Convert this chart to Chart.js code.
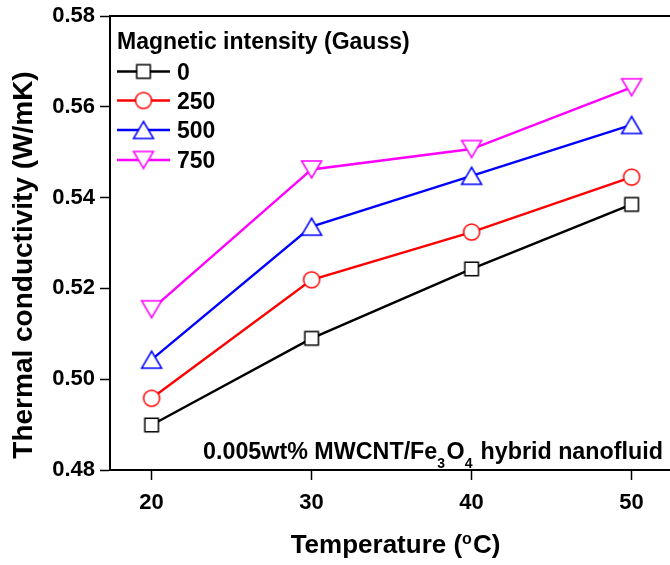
<!DOCTYPE html>
<html>
<head>
<meta charset="utf-8">
<script src="https://cdn.jsdelivr.net/npm/chart.js@4/dist/chart.umd.min.js"></script>
<style>
html,body{margin:0;padding:0;background:#fff;}
canvas{display:block;}
</style>
</head>
<body>
<canvas id="c" width="670" height="565"></canvas>
<script>
// ---- data ----
const temps = [20, 30, 40, 50];
const k0   = [0.4899, 0.5090, 0.5243, 0.5385];
const k250 = [0.4958, 0.5219, 0.5324, 0.5445];
const k500 = [0.5043, 0.5336, 0.5448, 0.5560];
const k750 = [0.5154, 0.5462, 0.5507, 0.5643];
const seriesNames = ['0', '250', '500', '750'];
const xTicks = [20, 30, 40, 50];
const yTicks = [0.48, 0.50, 0.52, 0.54, 0.56, 0.58];
const legendTitle = 'Magnetic intensity (Gauss)';
const xTitle = ['Temperature (', 'o', 'C)'];
const yTitle = 'Thermal conductivity (W/mK)';
const noteParts = ['0.005wt% MWCNT/Fe', '3', 'O', '4', ' hybrid nanofluid'];

const FONT = '"Liberation Sans", Arial, sans-serif';
const colors = ['#000000', '#ff0000', '#0000ff', '#ff00ff'];

// ---- marker images ----
function mk(w, h, draw) {
  const c = document.createElement('canvas');
  c.width = w; c.height = h;
  const g = c.getContext('2d');
  g.lineWidth = 1.5;
  g.fillStyle = '#fff';
  draw(g);
  return c;
}
const mSquare = mk(18, 18, g => { g.strokeStyle = colors[0]; g.beginPath(); g.rect(2.25, 2.25, 13.5, 13.5); g.fill(); g.stroke(); });
const mCircle = mk(20, 20, g => { g.strokeStyle = colors[1]; g.beginPath(); g.arc(10, 10, 8, 0, Math.PI * 2); g.fill(); g.stroke(); });
const mUp = mk(24, 21, g => { g.strokeStyle = colors[2]; g.beginPath(); g.moveTo(12, 2); g.lineTo(22, 19); g.lineTo(2, 19); g.closePath(); g.fill(); g.stroke(); });
const mDown = mk(24, 21, g => { g.strokeStyle = colors[3]; g.beginPath(); g.moveTo(2, 2); g.lineTo(22, 2); g.lineTo(12, 19); g.closePath(); g.fill(); g.stroke(); });
const markers = [mSquare, mCircle, mUp, mDown];

const allSeries = [k0, k250, k500, k750];
const datasets = allSeries.map((vals, i) => ({
  label: seriesNames[i],
  data: temps.map((t, j) => ({ x: t, y: vals[j] })),
  borderColor: colors[i],
  borderWidth: 2.4,
  pointStyle: markers[i],
  pointRadius: 10,
  pointHoverRadius: 10,
  tension: 0,
  clip: false
}));

const decor = {
  id: 'decor',
  afterDraw(chart) {
    const ctx = chart.ctx;
    const a = chart.chartArea;
    ctx.save();
    // top frame
    ctx.strokeStyle = '#000';
    ctx.lineWidth = 2;
    ctx.beginPath();
    ctx.moveTo(a.left - 1, a.top);
    ctx.lineTo(a.right + 2, a.top);
    ctx.stroke();

    ctx.fillStyle = '#000';
    // legend
    ctx.font = 'bold 23px ' + FONT;
    ctx.textAlign = 'left';
    ctx.textBaseline = 'alphabetic';
    ctx.fillText(legendTitle, 117, 48.5);
    const rows = [71.5, 100.5, 130, 160];
    rows.forEach((ry, i) => {
      ctx.strokeStyle = colors[i];
      ctx.lineWidth = 2.4;
      ctx.beginPath();
      ctx.moveTo(117, ry);
      ctx.lineTo(170, ry);
      ctx.stroke();
      const m = markers[i];
      ctx.drawImage(m, 143.5 - m.width / 2, ry - m.height / 2);
      ctx.fillStyle = '#000';
      ctx.fillText(seriesNames[i], 177, ry + 8);
    });

    // annotation
    let x = 203;
    const base = 458.5;
    noteParts.forEach((p, i) => {
      const sub = (i === 1 || i === 3);
      ctx.font = 'bold ' + (sub ? 14 : 23.3) + 'px ' + FONT;
      ctx.fillText(p, x, sub ? base + 9.5 : base);
      x += ctx.measureText(p).width + (sub ? 1.5 : 0);
    });

    // x title
    ctx.font = 'bold 26px ' + FONT;
    const w0 = ctx.measureText(xTitle[0]).width;
    const w2 = ctx.measureText(xTitle[2]).width;
    ctx.font = 'bold 16px ' + FONT;
    const w1 = ctx.measureText(xTitle[1]).width + 1;
    let tx = 395.5 - (w0 + w1 + w2) / 2;
    const tb = 553;
    ctx.font = 'bold 26px ' + FONT;
    ctx.fillText(xTitle[0], tx, tb);
    tx += w0;
    ctx.font = 'bold 16px ' + FONT;
    ctx.fillText(xTitle[1], tx, tb - 9);
    tx += w1;
    ctx.font = 'bold 26px ' + FONT;
    ctx.fillText(xTitle[2], tx, tb);

    // y title
    ctx.translate(32, 265);
    ctx.rotate(-Math.PI / 2);
    ctx.font = 'bold 28px ' + FONT;
    ctx.textAlign = 'center';
    ctx.fillText(yTitle, 0, 0);
    ctx.restore();
  }
};

new Chart(document.getElementById('c'), {
  type: 'line',
  data: { datasets },
  options: {
    responsive: false,
    animation: false,
    devicePixelRatio: 1,
    layout: { autoPadding: false, padding: { top: 16, left: 0, right: 0, bottom: 0 } },
    plugins: { legend: { display: false }, tooltip: { enabled: false } },
    scales: {
      x: {
        type: 'linear',
        min: 17.4,
        max: 52.4,
        afterFit(s) { s.height = 95; s.paddingLeft = 0; s.paddingRight = 0; },
        afterBuildTicks(s) { s.ticks = xTicks.map(v => ({ value: v })); },
        grid: { drawOnChartArea: false, drawTicks: true, tickLength: 10, color: '#000', tickWidth: 1.5 },
        border: { display: true, color: '#000', width: 2 },
        ticks: { color: '#000', padding: 10, font: { family: FONT, size: 22, weight: 'bold' }, callback: v => String(v) }
      },
      y: {
        type: 'linear',
        min: 0.48,
        max: 0.58,
        afterFit(s) { s.width = 110; s.paddingTop = 0; s.paddingBottom = 0; },
        afterBuildTicks(s) { s.ticks = yTicks.map(v => ({ value: v })); },
        grid: { drawOnChartArea: false, drawTicks: true, tickLength: 10, color: '#000', tickWidth: 1.5 },
        border: { display: true, color: '#000', width: 2 },
        ticks: { color: '#000', padding: 5, font: { family: FONT, size: 22, weight: 'bold' }, callback: v => Number(v).toFixed(2) }
      }
    }
  },
  plugins: [decor]
});
</script>
</body>
</html>
